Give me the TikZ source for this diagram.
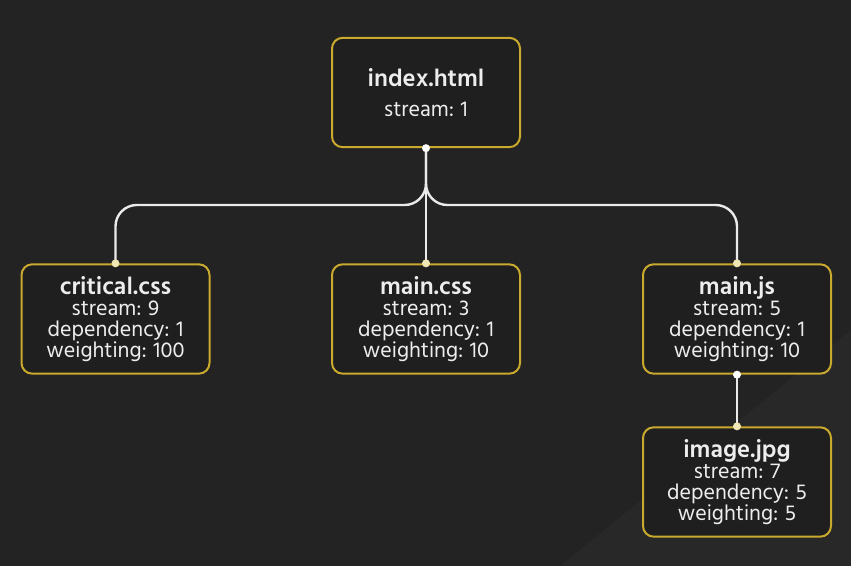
\documentclass[tikz,border=0pt]{standalone}
\usepackage{fontspec}
\setmainfont{Hind Siliguri}
\definecolor{bg}{HTML}{232323}
\definecolor{boxfill}{HTML}{1F1F1F}
\definecolor{gold}{HTML}{C9A92E}
\definecolor{txt}{HTML}{EDEDED}
\definecolor{wire}{HTML}{EAEAEA}
\definecolor{cream}{HTML}{F1E7B5}
\begin{document}
\begin{tikzpicture}[x=0.75pt,y=-0.75pt,
  card/.style={draw=gold, fill=boxfill, line width=1.5pt, rounded corners=8pt,
    minimum width=141pt, minimum height=82pt, align=center, text=txt,
    font=\fontsize{16.5}{15.8}\selectfont, inner sep=0pt},
  ttl/.style={font=\fontsize{18.5}{15.8}\selectfont\bfseries},
  wire/.style={draw=wire, line width=1.8pt, rounded corners=16pt},
  srcdot/.style={fill=white},
  dstdot/.style={fill=cream}]
\fill[bg] (0,0) rectangle (851,566);
\fill[white,opacity=0.025] (560,566) -- (851,330) -- (851,566) -- cycle;
\useasboundingbox (0,0) rectangle (851,566);

\newcommand{\ttlx}[1]{{\fontsize{18.5}{15.8}\selectfont\bfseries #1}}
\node[card] (idx) at (426,92.5) {\ttlx{index.html}\\[7pt]stream: 1};
\node[card] (ccss) at (115.5,319) {\ttlx{critical.css}\\stream: 9\\dependency: 1\\weighting: 100};
\node[card] (mcss) at (426,319) {\ttlx{main.css}\\stream: 3\\dependency: 1\\weighting: 10};
\node[card] (mjs) at (737,319) {\ttlx{main.js}\\stream: 5\\dependency: 1\\weighting: 10};
\node[card] (img) at (737,482) {\ttlx{image.jpg}\\stream: 7\\dependency: 5\\weighting: 5};

\coordinate (bus) at (426,205);
\draw[wire] (idx.south) -- (bus) -| (ccss.north);
\draw[wire] (idx.south) -- (bus) -| (mjs.north);
\draw[wire] (idx.south) -- (mcss.north);
\draw[wire] (mjs.south) -- (img.north);

\fill[srcdot] (idx.south) circle (3pt);
\fill[srcdot] (mjs.south) circle (3pt);
\fill[dstdot] (ccss.north) circle (3pt);
\fill[dstdot] (mcss.north) circle (3pt);
\fill[dstdot] (mjs.north) circle (3pt);
\fill[dstdot] (img.north) circle (3pt);
\end{tikzpicture}
\end{document}
